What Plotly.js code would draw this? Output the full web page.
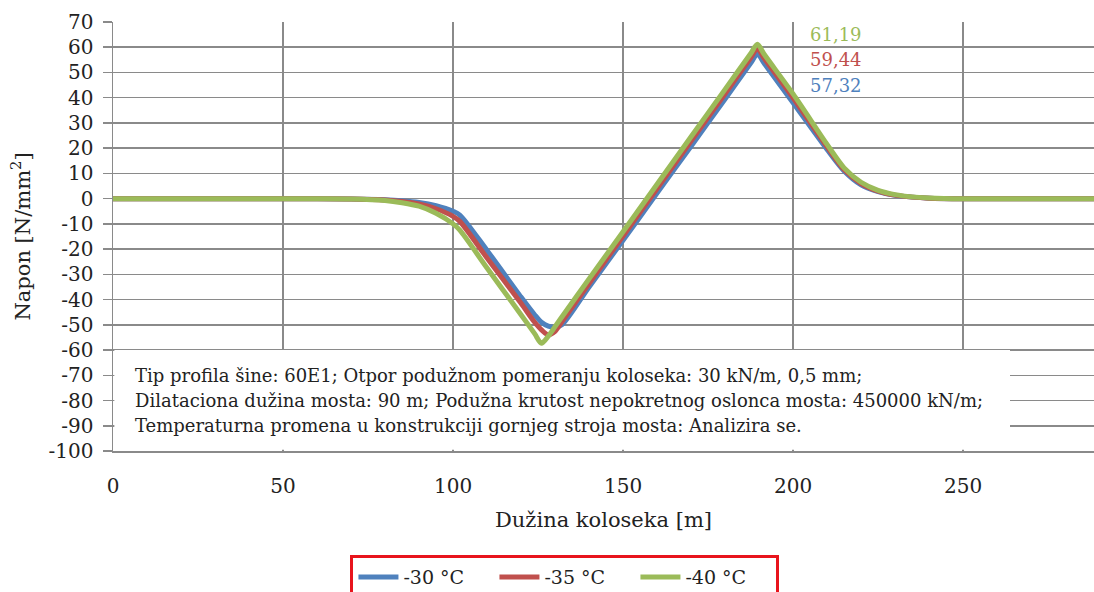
<!DOCTYPE html>
<html>
<head>
<meta charset="utf-8">
<script src="https://cdn.plot.ly/plotly-3.0.1.min.js"></script>
<style>
  html, body { margin: 0; padding: 0; background: #fff; }
  #chart { width: 1094px; height: 592px; }
</style>
</head>
<body>
<div id="chart"></div>
<script>
// ---- data ----
const distance = [0, 60, 70, 80, 85, 90, 95, 100, 102, 110, 120, 124, 126, 128, 130, 132, 140, 150, 160, 170, 180, 187.5, 189.5, 191.5, 200, 210, 215, 220, 225, 230, 235, 240, 250, 288.5];
const stressMinus30 = [0, 0, -0.1, -0.4, -0.8, -1.5, -2.8, -5, -6.5, -20.5, -39, -46, -49, -50.5, -51, -50, -35, -16.5, 2.2, 20.8, 39.5, 53.6, 57.32, 53.6, 38, 19.5, 11, 5.5, 2.8, 1.3, 0.6, 0.2, 0, 0];
const stressMinus35 = [0, 0, -0.1, -0.5, -1.1, -2.1, -4, -7, -9, -23.5, -41.5, -49, -52, -54, -52.6, -48.8, -33.6, -14.8, 4, 22.8, 41.6, 55.7, 59.44, 55.6, 40, 20.5, 11.5, 6, 3, 1.4, 0.6, 0.2, 0, 0];
const stressMinus40 = [0, 0, -0.1, -0.7, -1.6, -3, -5.8, -10, -12.5, -27.5, -46, -53.5, -57.3, -54.5, -50.7, -46.9, -31.8, -13.1, 5.7, 24.5, 43.3, 57.4, 61.19, 57.2, 41.5, 21.5, 12.2, 6.5, 3.3, 1.6, 0.7, 0.3, 0, 0];
const seriesNames = ["-30 °C", "-35 °C", "-40 °C"];
const peakLabels = ["57,32", "59,44", "61,19"];
const yTickVals = [70, 60, 50, 40, 30, 20, 10, 0, -10, -20, -30, -40, -50, -60, -70, -80, -90, -100];
const yTickText = ["70", "60", "50", "40", "30", "20", "10", "0", "-10", "-20", "-30", "-40", "-50", "-60", "-70", "-80", "-90", "-100"];
const xTickVals = [0, 50, 100, 150, 200, 250];
const noteLines = [
  "Tip profila šine: 60E1; Otpor podužnom pomeranju koloseka: 30 kN/m, 0,5 mm;",
  "Dilataciona dužina mosta: 90 m; Podužna krutost nepokretnog oslonca mosta: 450000 kN/m;",
  "Temperaturna promena u konstrukciji gornjeg stroja mosta: Analizira se."
];

// ---- style ----
const colors = ["#4f81bd", "#c0504d", "#9bbb59"];
const serif = "DejaVu Serif, serif";
const gridCol = "#8a8a8a";

const seriesData = [stressMinus30, stressMinus35, stressMinus40];
const traces = seriesData.map((ys, i) => ({
  x: distance, y: ys, name: seriesNames[i], type: "scatter", mode: "lines",
  line: { color: colors[i], width: 5, shape: "spline", smoothing: 0.8 }
}));

const annotations = [];
const peakY = [45, 55, 65];
peakLabels.forEach((t, i) => annotations.push({
  x: 204.4, y: peakY[i], xref: "x", yref: "y", text: t, showarrow: false,
  xanchor: "left", yanchor: "middle", font: { family: serif, size: 18, color: colors[i] }
}));
const noteY = [-70, -80, -90];
noteLines.forEach((t, i) => annotations.push({
  x: 5.9, y: noteY[i], xref: "x", yref: "y", text: t, showarrow: false,
  xanchor: "left", yanchor: "middle", font: { family: serif, size: 18, color: "#222" }
}));

const layout = {
  width: 1094, height: 592,
  margin: { l: 113, r: 0, t: 22, b: 141, autoexpand: false },
  paper_bgcolor: "#fff", plot_bgcolor: "#fff",
  font: { family: serif, size: 18, color: "#222" },
  showlegend: true,
  legend: {
    orientation: "h", x: 0.4607, xanchor: "center", y: -0.2425, yanchor: "top",
    bordercolor: "#e8141c", borderwidth: 3, bgcolor: "#fff",
    entrywidth: 86, itemwidth: 40,
    font: { family: serif, size: 19, color: "#222" }
  },
  xaxis: {
    range: [0, 288.5], tickvals: xTickVals, ticks: "", ticklabelstandoff: 16, automargin: false,
    showgrid: true, gridcolor: gridCol, gridwidth: 1.5,
    showline: true, linecolor: gridCol, linewidth: 1.5,
    zeroline: false, tickfont: { family: serif, size: 20 },
    title: { text: "Dužina koloseka [m]", font: { family: serif, size: 21 }, standoff: 16 }
  },
  yaxis: {
    range: [-100, 70], tickvals: yTickVals, ticktext: yTickText, automargin: false,
    ticks: "outside", ticklen: 9, tickcolor: gridCol, tickwidth: 1.5, ticklabelstandoff: 5,
    showgrid: true, gridcolor: gridCol, gridwidth: 1.5,
    showline: true, linecolor: gridCol, linewidth: 1.5,
    zeroline: false, tickfont: { family: serif, size: 20 },
    title: { text: "Napon [N/mm<sup>2</sup>]", font: { family: serif, size: 21 }, standoff: 12 }
  },
  shapes: [{
    type: "rect", xref: "x", yref: "y", x0: 0.4, x1: 263.8, y0: -99.5, y1: -60,
    fillcolor: "#fff", line: { width: 0 }, layer: "between"
  }],
  annotations: annotations
};

Plotly.newPlot("chart", traces, layout, { displayModeBar: false, staticPlot: true });
</script>
</body>
</html>
